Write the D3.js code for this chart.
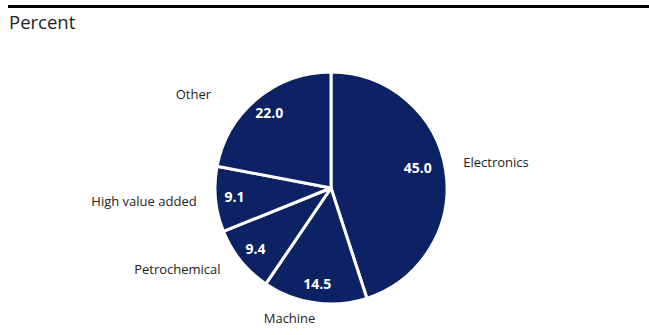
<!DOCTYPE html>
<html><head><meta charset="utf-8">
<script src="https://cdn.jsdelivr.net/npm/d3@7"></script>
<style>
html,body{margin:0;padding:0;background:#fff;}
text{font-family:"Open Sans","Noto Sans",sans-serif;}
</style></head>
<body>
<svg id="chart" width="649" height="335"></svg>
<script>
const categories = ["Electronics", "Machine", "Petrochemical", "High value added", "Other"];
const values = [45.0, 14.5, 9.4, 9.1, 22.0];
const unitLabel = "Percent";

const W = 649, H = 335;
const cx = 331, cy = 188, R = 116;
const fill = "#0c2264";

const svg = d3.select("#chart");
svg.append("line").attr("x1", 8).attr("x2", W).attr("y1", 6.5).attr("y2", 6.5)
  .attr("stroke", "#000").attr("stroke-width", 3);
svg.append("text").attr("x", 9).attr("y", 28.5).attr("font-size", 18.5).attr("fill", "#222")
  .text(unitLabel);

const data = categories.map((c, i) => ({ name: c, value: values[i] }));
const pie = d3.pie().value(d => d.value).sort(null);
const arcs = pie(data);
const arc = d3.arc().innerRadius(0).outerRadius(R);

const g = svg.append("g").attr("transform", `translate(${cx},${cy})`);
g.selectAll("path").data(arcs).join("path")
  .attr("d", arc).attr("fill", fill).attr("stroke", "#fff").attr("stroke-width", 3)
  .attr("stroke-linejoin", "round");

// value labels
g.selectAll("text.val").data(arcs).join("text").attr("class", "val")
  .attr("transform", d => {
    const big = d.data.value > 40;
    const r = big ? 89 : 97;
    const a = (d.startAngle + d.endAngle) / 2 - (big ? 0.07 : 0);
    return `translate(${Math.sin(a) * r},${-Math.cos(a) * r})`;
  })
  .attr("text-anchor", "middle").attr("dy", "0.35em")
  .attr("font-size", 14).attr("font-weight", "bold").attr("fill", "#fff")
  .text(d => d3.format(".1f")(d.data.value));

// outer labels
const nudge = {
  "Electronics": [-4, -4], "Machine": [-22, -6], "Petrochemical": [-3, -5],
  "High value added": [3, 0], "Other": [-32, 13]
};
g.selectAll("text.lab").data(arcs).join("text").attr("class", "lab")
  .attr("transform", d => {
    const a = (d.startAngle + d.endAngle) / 2;
    const n = nudge[d.data.name] || [0, 0];
    return `translate(${Math.sin(a) * 138 + n[0]},${-Math.cos(a) * 138 + n[1]})`;
  })
  .attr("text-anchor", d => {
    const s = Math.sin((d.startAngle + d.endAngle) / 2);
    return Math.abs(s) < 0.2 ? "middle" : (s > 0 ? "start" : "end");
  })
  .attr("dy", "0.35em").attr("font-size", 13).attr("fill", "#222")
  .text(d => d.data.name);
</script>
</body></html>
